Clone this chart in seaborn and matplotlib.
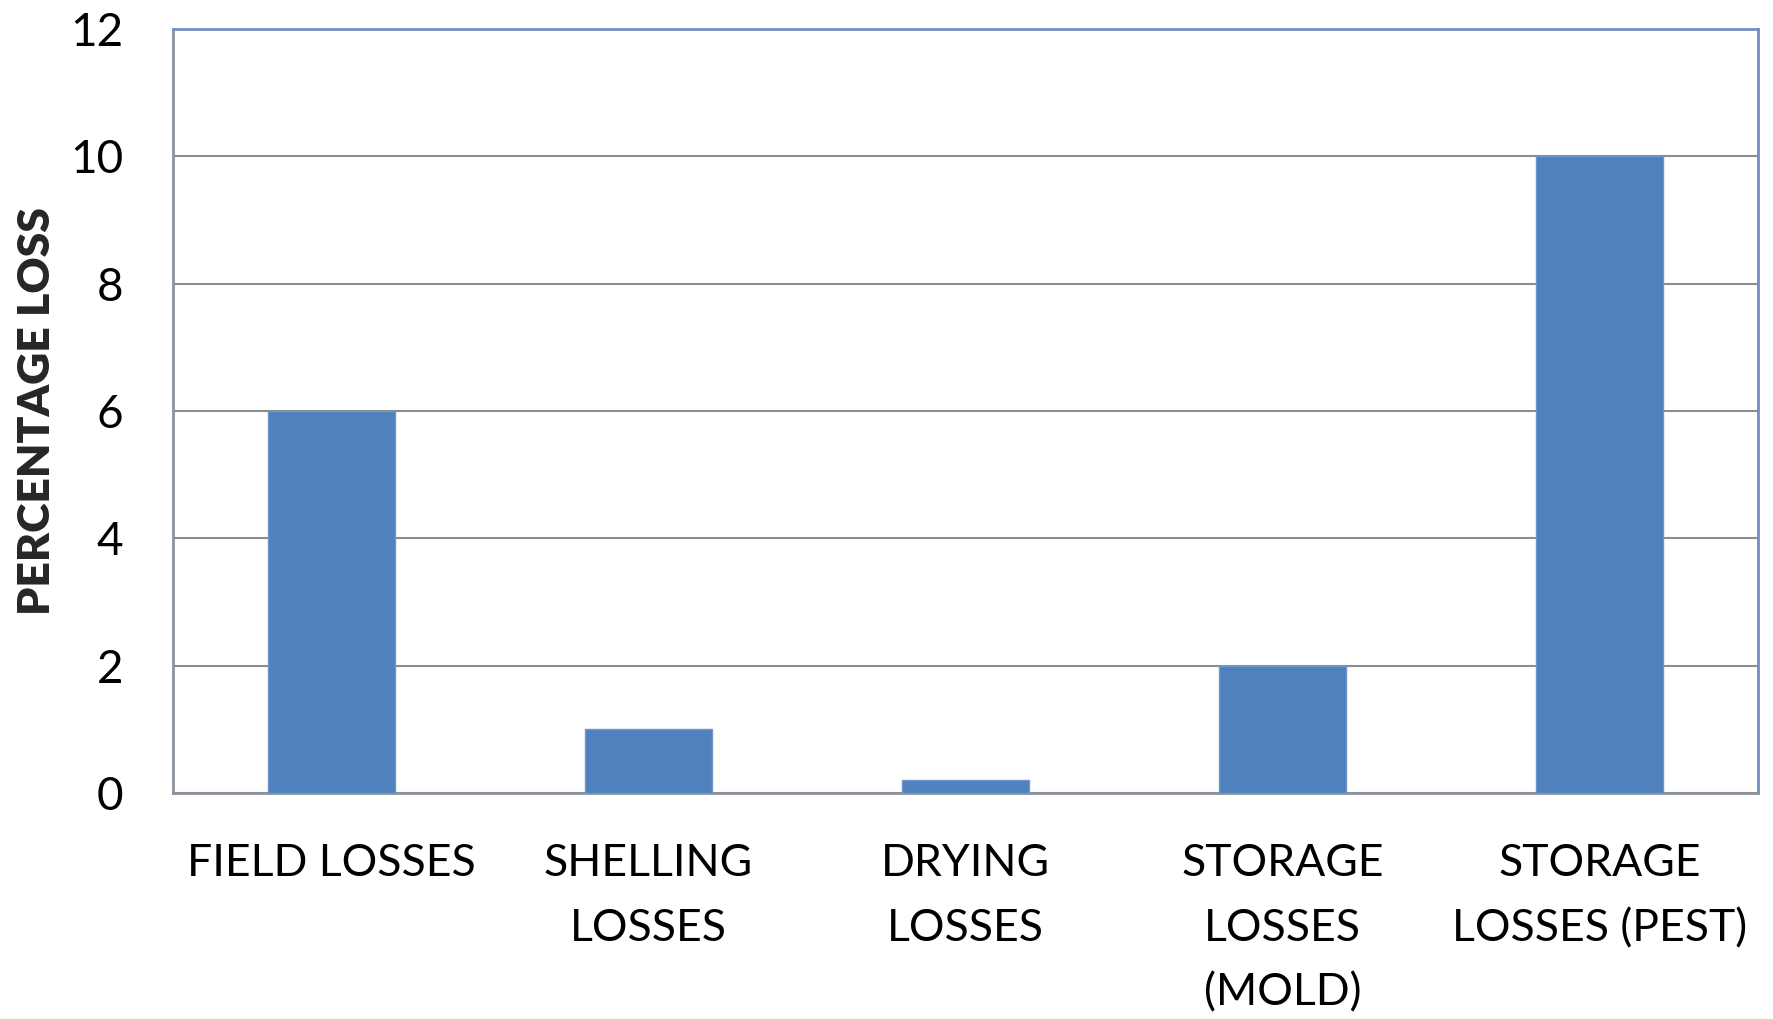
import matplotlib
matplotlib.use("Agg")
import matplotlib.pyplot as plt
import seaborn as sns
import pandas as pd

categories = [
    "FIELD LOSSES",
    "SHELLING\nLOSSES",
    "DRYING\nLOSSES",
    "STORAGE\nLOSSES\n(MOLD)",
    "STORAGE\nLOSSES (PEST)",
]
loss_pct = [6, 1, 0.2, 2, 10]
y_ticks = [0, 2, 4, 6, 8, 10, 12]

sns.set_theme(style="white")
plt.rcParams["font.family"] = ["Lato", "DejaVu Sans"]

df = pd.DataFrame({"category": categories, "loss": loss_pct})

fig = plt.figure(figsize=(17.73, 10.19), dpi=100)
ax = fig.add_axes([173 / 1773, 1 - 793 / 1019, (1758 - 173) / 1773, (793 - 29) / 1019])

sns.barplot(data=df, x="category", y="loss", color="#4F81BD", width=0.4,
            saturation=1, edgecolor="#6F97C9", linewidth=1, ax=ax, zorder=3)

ax.set_ylim(0, 12)
ax.set_yticks(y_ticks)
ax.yaxis.grid(True, color="#8C8C8C", linewidth=1.5, zorder=0)
ax.xaxis.grid(False)

for side in ["left", "bottom"]:
    ax.spines[side].set_color("#8A929B")
    ax.spines[side].set_linewidth(2)
for side in ["top", "right"]:
    ax.spines[side].set_color("#6F8FBF")
    ax.spines[side].set_linewidth(2)
    ax.spines[side].set_visible(True)

ax.tick_params(axis="y", length=0, labelsize=33, colors="black", pad=36)
ax.tick_params(axis="x", length=0, labelsize=32, colors="black", pad=36)
for lbl in ax.get_xticklabels():
    lbl.set_linespacing(1.72)
    lbl.set_verticalalignment("top")

ax.set_xlabel("")
ax.set_ylabel("PERCENTAGE LOSS", fontsize=32, fontweight="heavy", labelpad=9)

fig.savefig("out.png", dpi=100)
